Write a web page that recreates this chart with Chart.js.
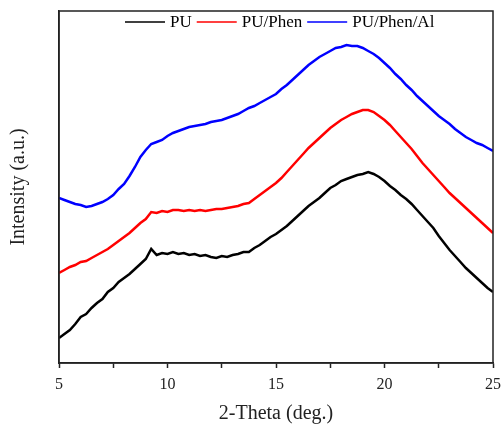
<!DOCTYPE html>
<html>
<head>
<meta charset="utf-8">
<script src="https://cdn.jsdelivr.net/npm/chart.js@4.4.1/dist/chart.umd.min.js"></script>
<style>
html,body{margin:0;padding:0;background:#fff;}
#wrap{width:502px;height:427px;position:relative;}
</style>
</head>
<body>
<div id="wrap"><canvas id="c" width="502" height="427"></canvas></div>
<script>
const seriesNames = ["PU", "PU/Phen", "PU/Phen/Al"];
const seriesColors = ["#000000", "#ff0000", "#0000ff"];
const xTickLabels = ["5", "10", "15", "20", "25"];
const xAxisTitle = "2-Theta (deg.)";
const yAxisTitle = "Intensity (a.u.)";

// 2-theta positions, 5 to 25 in 0.25 deg steps
const theta = [5,5.25,5.5,5.75,6,6.25,6.5,6.75,7,7.25,7.5,7.75,8,8.25,8.5,8.75,9,9.25,9.5,9.75,
  10,10.25,10.5,10.75,11,11.25,11.5,11.75,12,12.25,12.5,12.75,13,13.25,13.5,13.75,14,14.25,14.5,14.75,
  15,15.25,15.5,15.75,16,16.25,16.5,16.75,17,17.25,17.5,17.75,18,18.25,18.5,18.75,19,19.25,19.5,19.75,
  20,20.25,20.5,20.75,21,21.25,21.5,21.75,22,22.25,22.5,22.75,23,23.25,23.5,23.75,24,24.25,24.5,24.75,25];

const pu = [25,29,33,39,46,49,55,60,64,71,75,81,85,89,94,99,104,114,108,110,
  109,111,109,110,108,109,107,108,106,105,107,106,108,109,111,111,115,118,122,126,
  129,133,137,142,147,152,157,161,165,170,175,178,182,184,186,188,189,191,189,186,
  182,177,173,168,164,159,153,147,141,135,127,120,113,107,101,95,90,85,80,75,71];

const puPhen = [90,93,96,98,101,102,105,108,111,114,118,122,126,130,135,140,144,151,150,152,
  151,153,153,152,153,152,153,152,153,154,154,155,156,157,159,160,164,168,172,176,
  180,185,191,197,203,209,215,220,225,230,235,239,243,246,249,251,253,253,251,247,
  243,238,232,226,220,214,207,200,194,188,182,176,170,165,160,155,150,145,140,135,130];

const puPhenAl = [165,163,161,159,158,156,157,159,161,164,168,174,179,187,196,206,213,219,221,223,
  227,230,232,234,236,237,238,239,241,242,243,245,247,249,252,255,257,260,263,266,
  269,274,278,283,288,293,298,302,306,309,312,315,316,318,317,317,315,312,309,305,
  300,295,289,284,278,273,267,262,257,252,247,243,239,234,230,226,223,220,218,215,212];

const allSeries = [pu, puPhen, puPhenAl];
const serif = '"Liberation Serif", "Times New Roman", serif';

const framePlugin = {
  id: 'frame',
  afterDatasetsDraw(chart) {
    const {ctx, chartArea: a} = chart;
    ctx.save();
    ctx.strokeStyle = '#222';
    ctx.lineWidth = 1.5;
    ctx.strokeRect(a.left, a.top, a.right - a.left, a.bottom - a.top);
    // legend
    ctx.font = '17px ' + serif;
    ctx.textBaseline = 'middle';
    const y = 22;
    let x = 125;
    chart.data.datasets.forEach((ds) => {
      ctx.strokeStyle = ds.borderColor;
      ctx.lineWidth = 1.5;
      ctx.beginPath();
      ctx.moveTo(x, y);
      ctx.lineTo(x + 40, y);
      ctx.stroke();
      x += 45;
      ctx.fillStyle = '#000';
      ctx.fillText(ds.label, x, y + 1);
      x += ctx.measureText(ds.label).width + 5;
    });
    ctx.restore();
  }
};

new Chart(document.getElementById('c'), {
  type: 'line',
  data: {
    datasets: allSeries.map((vals, i) => ({
      label: seriesNames[i],
      data: vals.map((v, j) => ({x: theta[j], y: v})),
      borderColor: seriesColors[i],
      borderWidth: 2.5,
      pointRadius: 0,
      tension: 0,
      fill: false
    }))
  },
  options: {
    responsive: false,
    animation: false,
    layout: {padding: {left: 0, right: 9, top: 11, bottom: 0}},
    plugins: {legend: {display: false}, tooltip: {enabled: false}},
    scales: {
      x: {
        type: 'linear',
        min: 5, max: 25,
        afterFit(s) { s.height = 64; s.paddingLeft = 0; s.paddingRight = 0; },
        afterBuildTicks(s) {
          const t = [];
          for (let v = 5; v <= 25; v += 2.5) t.push({value: v});
          s.ticks = t;
        },
        ticks: {
          autoSkip: false,
          maxRotation: 0,
          padding: 7,
          color: '#222',
          font: {family: serif, size: 16},
          callback: (v) => (v % 5 === 0 ? xTickLabels[(v - 5) / 5] : '')
        },
        grid: {drawOnChartArea: false, drawTicks: true, tickLength: 5, color: '#222', tickWidth: 1.5},
        border: {color: '#222', width: 1.5},
        title: {
          display: true, text: xAxisTitle, color: '#222',
          font: {family: serif, size: 20},
          padding: {top: 0, bottom: 1}
        }
      },
      y: {
        min: 0, max: 352,
        afterFit(s) { s.width = 59; s.paddingTop = 0; s.paddingBottom = 0; },
        ticks: {display: false},
        grid: {display: false, drawTicks: false},
        border: {color: '#222', width: 1.5},
        title: {
          display: true, text: yAxisTitle, color: '#222',
          font: {family: serif, size: 20},
          padding: {top: 7, bottom: 0}
        }
      }
    }
  },
  plugins: [framePlugin]
});
</script>
</body>
</html>
